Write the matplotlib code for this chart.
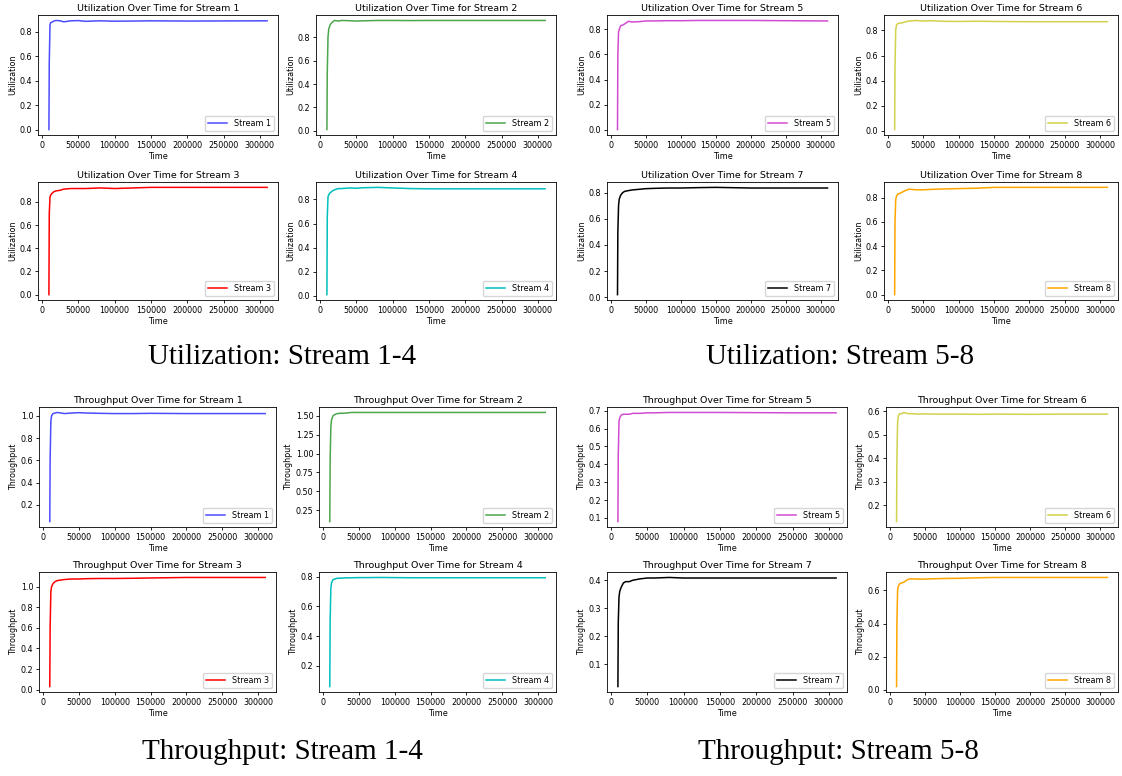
import matplotlib
matplotlib.use("Agg")
import matplotlib.pyplot as plt
from matplotlib.ticker import MultipleLocator

W, H = 1122, 776
DPI = 100

# Sample times shared by all streams
time = [9500, 10000, 11000, 12000, 14000, 17000, 20000, 25000, 30000, 40000,
        50000, 60000, 80000, 100000, 125000, 150000, 200000, 250000, 310000]

streams = ["Stream 1", "Stream 2", "Stream 3", "Stream 4",
           "Stream 5", "Stream 6", "Stream 7", "Stream 8"]
colors = ["b", "g", "r", "c", "m", "y", "k", "orange"]
alphas = [0.7, 0.7, 1.0, 1.0, 0.7, 0.7, 1.0, 1.0]

util_1 = [0.0, 0.55, 0.86, 0.875, 0.88, 0.89, 0.893, 0.89, 0.882, 0.89,
          0.892, 0.886, 0.89, 0.887, 0.888, 0.89, 0.888, 0.889, 0.89]
util_2 = [0.01, 0.5, 0.8, 0.87, 0.91, 0.93, 0.945, 0.94, 0.945, 0.943,
          0.94, 0.942, 0.945, 0.945, 0.944, 0.945, 0.945, 0.945, 0.945]
util_3 = [0.0, 0.7, 0.84, 0.86, 0.875, 0.89, 0.895, 0.9, 0.91, 0.915,
          0.915, 0.915, 0.92, 0.915, 0.92, 0.925, 0.925, 0.925, 0.925]
util_4 = [0.01, 0.65, 0.82, 0.84, 0.855, 0.87, 0.88, 0.89, 0.89, 0.895,
          0.893, 0.897, 0.9, 0.895, 0.89, 0.888, 0.888, 0.888, 0.888]
util_5 = [0.0, 0.6, 0.78, 0.8, 0.83, 0.835, 0.845, 0.865, 0.86, 0.862,
          0.868, 0.868, 0.87, 0.87, 0.872, 0.872, 0.872, 0.87, 0.868]
util_6 = [0.01, 0.5, 0.8, 0.84, 0.855, 0.86, 0.86, 0.87, 0.875, 0.88,
          0.875, 0.878, 0.873, 0.872, 0.874, 0.872, 0.87, 0.87, 0.87]
util_7 = [0.02, 0.5, 0.7, 0.75, 0.78, 0.8, 0.81, 0.815, 0.82, 0.825,
          0.83, 0.832, 0.835, 0.835, 0.838, 0.84, 0.835, 0.835, 0.835]
util_8 = [0.0, 0.6, 0.78, 0.81, 0.83, 0.835, 0.845, 0.86, 0.87, 0.865,
          0.865, 0.868, 0.872, 0.875, 0.878, 0.885, 0.885, 0.885, 0.885]

thr_1 = [0.05, 0.6, 0.95, 1.0, 1.02, 1.025, 1.03, 1.025, 1.02, 1.025,
         1.028, 1.025, 1.022, 1.02, 1.02, 1.022, 1.02, 1.02, 1.02]
thr_2 = [0.1, 0.9, 1.35, 1.45, 1.5, 1.52, 1.53, 1.535, 1.535, 1.545,
         1.545, 1.545, 1.545, 1.545, 1.545, 1.545, 1.545, 1.545, 1.545]
thr_3 = [0.03, 0.6, 0.95, 1.0, 1.03, 1.05, 1.06, 1.065, 1.07, 1.075,
         1.075, 1.078, 1.08, 1.08, 1.082, 1.085, 1.09, 1.09, 1.09]
thr_4 = [0.06, 0.5, 0.72, 0.76, 0.78, 0.785, 0.79, 0.79, 0.792, 0.793,
         0.794, 0.794, 0.795, 0.794, 0.793, 0.793, 0.793, 0.793, 0.793]
thr_5 = [0.08, 0.45, 0.64, 0.66, 0.675, 0.68, 0.68, 0.68, 0.685, 0.685,
         0.688, 0.688, 0.69, 0.69, 0.69, 0.69, 0.689, 0.688, 0.688]
thr_6 = [0.13, 0.4, 0.55, 0.58, 0.59, 0.59, 0.595, 0.59, 0.59, 0.588,
         0.589, 0.588, 0.588, 0.588, 0.587, 0.588, 0.587, 0.588, 0.588]
thr_7 = [0.02, 0.25, 0.34, 0.36, 0.375, 0.39, 0.395, 0.395, 0.4, 0.405,
         0.408, 0.408, 0.41, 0.408, 0.408, 0.408, 0.408, 0.408, 0.408]
thr_8 = [0.02, 0.4, 0.6, 0.625, 0.64, 0.645, 0.65, 0.665, 0.67, 0.668,
         0.668, 0.67, 0.672, 0.673, 0.676, 0.678, 0.678, 0.678, 0.678]

utilization = [util_1, util_2, util_3, util_4, util_5, util_6, util_7, util_8]
throughput = [thr_1, thr_2, thr_3, thr_4, thr_5, thr_6, thr_7, thr_8]

# y tick spacing per stream
util_steps = [0.2] * 8
thr_steps = [0.2, 0.25, 0.2, 0.2, 0.1, 0.1, 0.1, 0.2]

captions = ["Utilization: Stream 1-4", "Utilization: Stream 5-8",
            "Throughput: Stream 1-4", "Throughput: Stream 5-8"]

fig = plt.figure(figsize=(W / DPI, H / DPI), dpi=DPI)
fig.patch.set_facecolor("white")

SMALL = 5.8


def add_ax(left, top, right, bottom):
    return fig.add_axes([left / W, 1 - bottom / H, (right - left) / W, (bottom - top) / H])


# Axes boxes (left, top, right, bottom) in pixels
util_boxes = [
    (38, 15, 278, 135), (316, 15, 556, 135),
    (38, 182, 278, 300), (316, 182, 556, 300),
    (607, 15, 838, 135), (884, 15, 1118, 135),
    (607, 182, 838, 300), (884, 182, 1118, 300),
]
thr_boxes = [
    (39, 407, 276, 527), (319, 407, 556, 527),
    (39, 572, 276, 692), (319, 572, 556, 692),
    (607, 407, 847, 527), (886, 407, 1118, 527),
    (607, 572, 847, 692), (886, 572, 1118, 692),
]


def draw(values, boxes, steps, metric):
    for i, name in enumerate(streams):
        ax = add_ax(*boxes[i])
        ax.plot(time, values[i], color=colors[i], alpha=alphas[i], lw=1.1, label=name)
        ax.yaxis.set_major_locator(MultipleLocator(steps[i]))
        ax.set_title(f"{metric} Over Time for {name}", fontsize=6.8, pad=3)
        ax.set_xlabel("Time", fontsize=SMALL, labelpad=1.5)
        ax.set_ylabel(metric, fontsize=SMALL, labelpad=2)
        ax.tick_params(labelsize=SMALL, length=2.5, width=0.6, pad=1.5)
        for s in ax.spines.values():
            s.set_linewidth(0.6)
        ax.legend(loc="lower right", fontsize=SMALL, handlelength=2.4,
                  borderpad=0.4, framealpha=0.8)


draw(utilization, util_boxes, util_steps, "Utilization")
draw(throughput, thr_boxes, thr_steps, "Throughput")

cap_pos = [(282, 357), (840, 357), (282, 752), (838, 752)]
for text, (x, y) in zip(captions, cap_pos):
    fig.text(x / W, 1 - y / H, text, ha="center", va="center",
             family="Liberation Serif", fontsize=21)

fig.savefig("out.png", dpi=DPI, facecolor="white")
